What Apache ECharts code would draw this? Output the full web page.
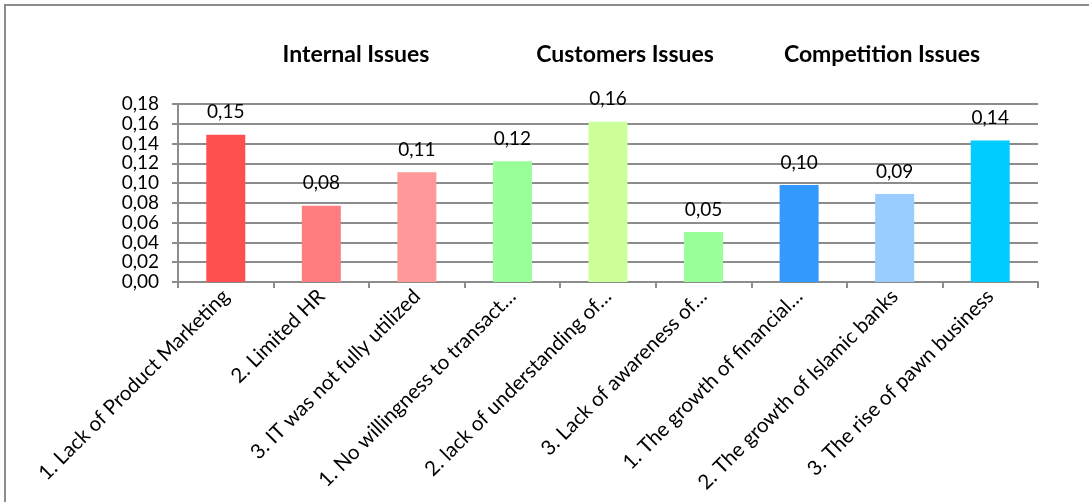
<!DOCTYPE html>
<html>
<head>
<meta charset="utf-8">
<script src="https://cdn.jsdelivr.net/npm/echarts@6/dist/echarts.min.js"></script>
<style>
html,body{margin:0;padding:0;background:#fff;}
#chart{width:1089px;height:502px;}
</style>
</head>
<body>
<div id="chart"></div>
<script>
// Issue categories, grouped three per theme
const categories = [
  '1. Lack of Product Marketing',
  '2. Limited HR',
  '3. IT was not fully utilized',
  '1. No willingness to transact…',
  '2. lack of understanding of…',
  '3. Lack of awareness of…',
  '1. The growth of financial…',
  '2. The growth of Islamic banks',
  '3. The rise of pawn business'
];
const scores = [0.149, 0.077, 0.111, 0.122, 0.162, 0.0505, 0.098, 0.089, 0.143];
const barColors = ['#FF5050', '#FF7C80', '#FF9999', '#99FF99', '#CCFF99', '#99FF99', '#3399FF', '#99CCFF', '#00CCFF'];
const groupTitles = ['Internal Issues', 'Customers Issues', 'Competition Issues'];
const groupCenters = [351, 620, 877];

const FONT = 'Lato, "Open Sans", sans-serif';
const comma = v => v.toFixed(2).replace('.', ',');

const chart = echarts.init(document.getElementById('chart'));
chart.setOption({
  animation: false,
  backgroundColor: '#fff',
  title: groupTitles.map((t, i) => ({
    text: t,
    left: groupCenters[i],
    top: 38,
    textAlign: 'center',
    textStyle: {fontFamily: FONT, fontWeight: 'bold', fontSize: 23, color: '#000'}
  })),
  graphic: [{
    type: 'rect',
    shape: {x: 5, y: 5, width: 1100, height: 520},
    style: {fill: 'none', stroke: '#8c8c8c', lineWidth: 2},
    silent: true
  }],
  grid: {left: 178, right: 51, top: 104, bottom: 220, containLabel: false},
  xAxis: {
    type: 'category',
    data: categories,
    axisLine: {lineStyle: {color: '#8c8c8c', width: 2}},
    axisTick: {show: true, length: 6, lineStyle: {color: '#8c8c8c', width: 2}},
    axisLabel: {
      rotate: 45, interval: 0, margin: 11,
      fontFamily: FONT, fontSize: 20.5, color: '#000'
    }
  },
  yAxis: {
    type: 'value',
    min: 0, max: 0.18, interval: 0.02,
    axisLine: {show: true, lineStyle: {color: '#8c8c8c', width: 2}},
    axisTick: {show: true, length: 6, lineStyle: {color: '#8c8c8c', width: 2}},
    splitLine: {lineStyle: {color: '#8c8c8c', width: 2}},
    axisLabel: {
      margin: 19, fontFamily: FONT, fontSize: 19, color: '#000',
      formatter: v => comma(v)
    }
  },
  series: [{
    type: 'bar',
    barWidth: 39,
    data: scores.map((v, i) => ({value: v, itemStyle: {color: barColors[i]}})),
    label: {
      show: true, position: 'top', distance: 13,
      fontFamily: FONT, fontSize: 19, color: '#000',
      formatter: p => comma(p.value)
    }
  }]
});
</script>
</body>
</html>
